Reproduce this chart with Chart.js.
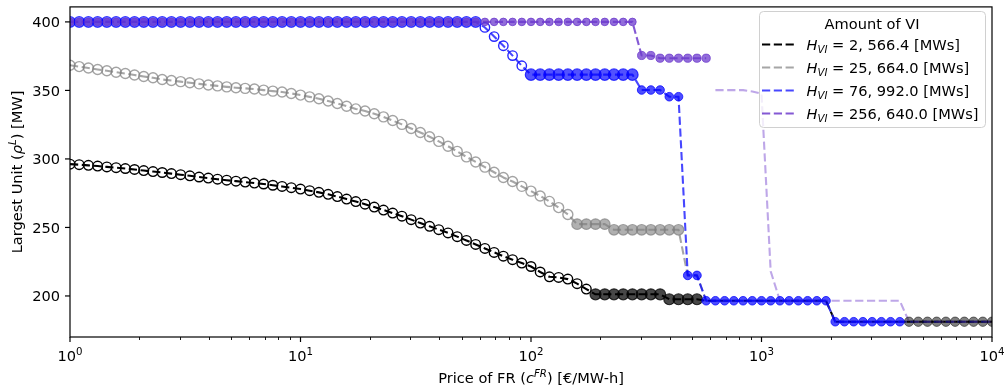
<!DOCTYPE html>
<html>
<head>
<meta charset="utf-8">
<script src="https://cdn.jsdelivr.net/npm/chart.js@4.4.1/dist/chart.umd.min.js"></script>
<style>
  html, body { margin: 0; padding: 0; background: #ffffff; }
  #wrap { width: 1008px; height: 392px; }
</style>
</head>
<body>
<div id="wrap"><canvas id="lineChart" width="1008" height="392"></canvas></div>
<script>
// price of FR grid (c^FR), 25 steps per decade
const prices = [
  1, 1.096, 1.202, 1.318, 1.445, 1.585, 1.738, 1.905, 2.089, 2.291, 2.512, 2.754, 3.020, 3.311, 3.631, 3.981, 4.365, 4.786, 5.248, 5.754, 6.310, 6.918, 7.586, 8.318, 9.120,
  10, 10.96, 12.02, 13.18, 14.45, 15.85, 17.38, 19.05, 20.89, 22.91, 25.12, 27.54, 30.20, 33.11, 36.31, 39.81, 43.65, 47.86, 52.48, 57.54, 63.10, 69.18, 75.86, 83.18, 91.20,
  100, 109.6, 120.2, 131.8, 144.5, 158.5, 173.8, 190.5, 208.9, 229.1, 251.2, 275.4, 302.0, 331.1, 363.1, 398.1, 436.5, 478.6, 524.8, 575.4, 631.0, 691.8, 758.6, 831.8, 912.0,
  1000, 1096, 1202, 1318, 1445, 1585, 1738, 1905, 2089, 2291, 2512, 2754, 3020, 3311, 3631, 3981, 4365, 4786, 5248, 5754, 6310, 6918, 7586, 8318, 9120,
  10000
];

// largest unit [MW] for each amount of VI
const blackValues = [
  296.2, 295.8, 295.3, 294.8, 294.2, 293.6, 293.0, 292.3, 291.5, 290.8,
  290.1, 289.3, 288.5, 287.7, 286.8, 286.0, 285.2, 284.5, 283.8, 283.1,
  282.4, 281.7, 280.8, 279.9, 279.0, 278.0, 276.8, 275.6, 274.2, 272.5,
  270.7, 268.9, 267.0, 264.9, 262.7, 260.5, 258.2, 255.7, 253.2, 250.8,
  248.4, 246.0, 243.3, 240.5, 237.6, 234.7, 231.8, 229.0, 226.5, 224.0,
  221.5, 217.5, 214.0, 213.5, 212.3, 209.0, 205.0, 201.2, 201.2, 201.2,
  201.2, 201.2, 201.2, 201.2, 201.2, 197.6, 197.6, 197.6, 197.6, 196.5,
  196.5, 196.5, 196.5, 196.5, 196.5, 196.5, 196.5, 196.5, 196.5, 196.5,
  196.5, 196.5, 196.5, 181.2, 181.2, 181.2, 181.2, 181.2, 181.2, 181.2,
  181.2, 181.2, 181.2, 181.2, 181.2, 181.2, 181.2, 181.2, 181.2, 181.2,
  181.2
];
const grayValues = [
  368.4, 367.4, 366.4, 365.3, 364.3, 363.3, 362.3, 361.2, 360.2, 359.2,
  358.0, 357.2, 356.4, 355.6, 354.8, 354.0, 353.3, 352.6, 352.0, 351.5,
  351.0, 350.2, 349.5, 348.8, 347.8, 346.6, 345.3, 343.9, 342.3, 340.5,
  338.5, 336.5, 335.0, 333.0, 330.7, 328.0, 325.2, 322.2, 319.3, 316.2,
  312.8, 309.3, 305.5, 301.5, 297.8, 294.0, 290.3, 286.5, 283.5, 280.0,
  276.5, 273.0, 269.0, 264.5, 259.5, 252.4, 252.4, 252.4, 252.4, 248.3,
  248.3, 248.3, 248.3, 248.3, 248.3, 248.3, 248.3, 215.0, 215.0, 196.5,
  196.5, 196.5, 196.5, 196.5, 196.5, 196.5, 196.5, 196.5, 196.5, 196.5,
  196.5, 196.5, 196.5, 181.2, 181.2, 181.2, 181.2, 181.2, 181.2, 181.2,
  181.2, 181.2, 181.2, 181.2, 181.2, 181.2, 181.2, 181.2, 181.2, 181.2,
  181.2
];
const blueValues = [
  400, 400, 400, 400, 400, 400, 400, 400, 400, 400,
  400, 400, 400, 400, 400, 400, 400, 400, 400, 400,
  400, 400, 400, 400, 400, 400, 400, 400, 400, 400,
  400, 400, 400, 400, 400, 400, 400, 400, 400, 400,
  400, 400, 400, 400, 400, 396.0, 389.3, 382.6, 375.4, 368.0,
  361.5, 361.5, 361.5, 361.5, 361.5, 361.5, 361.5, 361.5, 361.5, 361.5,
  361.5, 361.5, 350.3, 350.3, 350.3, 345.4, 345.4, 215.0, 215.0, 196.5,
  196.5, 196.5, 196.5, 196.5, 196.5, 196.5, 196.5, 196.5, 196.5, 196.5,
  196.5, 196.5, 196.5, 181.2, 181.2, 181.2, 181.2, 181.2, 181.2, 181.2,
  181.2, 181.2, 181.2, 181.2, 181.2, 181.2, 181.2, 181.2, 181.2, 181.2,
  181.2
];
const purpleValues = [
  400, 400, 400, 400, 400, 400, 400, 400, 400, 400,
  400, 400, 400, 400, 400, 400, 400, 400, 400, 400,
  400, 400, 400, 400, 400, 400, 400, 400, 400, 400,
  400, 400, 400, 400, 400, 400, 400, 400, 400, 400,
  400, 400, 400, 400, 400, 400, 400, 400, 400, 400,
  400, 400, 400, 400, 400, 400, 400, 400, 400, 400,
  400, 400, 375.5, 375.5, 373.5, 373.5, 373.5, 373.5, 373.5, 373.5,
  350.2, 350.2, 350.2, 350.2, 349.2, 347.6, 218.0, 196.5, 196.5, 196.5,
  196.5, 196.5, 196.5, 196.5, 196.5, 196.5, 196.5, 196.5, 196.5, 196.5,
  196.5, 181.2, 181.2, 181.2, 181.2, 181.2, 181.2, 181.2, 181.2, 181.2,
  181.2
];

const legendTitle = 'Amount of VI';
const legendValues = ['2, 566.4', '25, 664.0', '76, 992.0', '256, 640.0'];
const xTickValues = [1, 10, 100, 1000, 10000];
const xTickExponents = ['0', '1', '2', '3', '4'];
const yTickValues = [200, 250, 300, 350, 400];

const FONT = '"DejaVu Sans", sans-serif';
const FS = 14.6;

// style per series: dashed line pieces and marker pieces (index ranges)
const series = [
    {
        values: blackValues,
        legendColor: '#000000',
        lines: [{ from: 0, to: 100, color: '#000000' }],
        markers: [
            { from: 0, to: 56, r: 4.8, fill: 'rgba(0,0,0,0)', edge: '#000000', w: 1.4 },
            { from: 57, to: 68, r: 5.5, fill: 'rgba(0,0,0,0.72)', edge: 'rgba(0,0,0,0.75)', w: 1.2 },
            { from: 91, to: 100, r: 4.7, fill: 'rgba(0,0,0,0.5)', edge: 'rgba(0,0,0,0.5)', w: 1 }
        ]
    },
    {
        values: grayValues,
        legendColor: 'rgba(128,128,128,0.7)',
        lines: [{ from: 0, to: 100, color: 'rgba(128,128,128,0.7)' }],
        markers: [
            { from: 0, to: 54, r: 5.0, fill: 'rgba(0,0,0,0)', edge: 'rgba(128,128,128,0.72)', w: 1.4 },
            { from: 55, to: 66, r: 5.3, fill: 'rgba(128,128,128,0.62)', edge: 'rgba(128,128,128,0.7)', w: 1.2 }
        ]
    },
    {
        values: blueValues,
        legendColor: 'rgba(0,0,255,0.72)',
        lines: [{ from: 0, to: 100, color: 'rgba(0,0,255,0.72)' }],
        markers: [
            { from: 0, to: 44, r: 5.4, fill: 'rgba(0,0,255,0.6)', edge: 'rgba(0,0,255,0.7)', w: 1.2 },
            { from: 45, to: 49, r: 4.7, fill: 'rgba(0,0,0,0)', edge: 'rgba(0,0,255,0.85)', w: 1.4 },
            { from: 50, to: 61, r: 5.7, fill: 'rgba(0,0,255,0.68)', edge: 'rgba(0,0,255,0.75)', w: 1.2 },
            { from: 62, to: 90, r: 4.3, fill: 'rgba(0,0,255,0.7)', edge: 'rgba(0,0,255,0.75)', w: 1 }
        ]
    },
    {
        values: purpleValues,
        legendColor: 'rgba(110,60,205,0.85)',
        lines: [
            { from: 0, to: 69, color: 'rgba(110,60,205,0.85)' },
            { from: 70, to: 100, color: 'rgba(110,60,205,0.45)' }
        ],
        markers: [
            { from: 0, to: 61, r: 3.8, fill: 'rgba(110,60,205,0.75)', edge: 'rgba(110,60,205,0.8)', w: 1 },
            { from: 62, to: 69, r: 4.1, fill: 'rgba(110,60,205,0.75)', edge: 'rgba(110,60,205,0.8)', w: 1 }
        ]
    }
];

function pointsFor(values, from, to) {
    const pts = [];
    for (let i = from; i <= to; i++) {
        pts.push({ x: prices[i], y: values[i] });
    }
    return pts;
}

const datasets = [];
series.forEach((s, k) => {
    s.lines.forEach(l => {
        datasets.push({
            data: pointsFor(s.values, l.from, l.to),
            showLine: true,
            borderColor: l.color,
            borderWidth: 2.1,
            borderDash: [8.2, 3.6],
            borderJoinStyle: 'round',
            pointRadius: 0,
            tension: 0,
            fill: false,
            order: 20 - k
        });
    });
    s.markers.forEach(m => {
        datasets.push({
            data: pointsFor(s.values, m.from, m.to),
            showLine: false,
            pointRadius: m.r,
            pointBackgroundColor: m.fill,
            pointBorderColor: m.edge,
            pointBorderWidth: m.w,
            order: 10 - k
        });
    });
});

function drawRuns(ctx, runs, x, y, align) {
    let total = 0;
    runs.forEach(r => {
        ctx.font = r.font;
        r.w = ctx.measureText(r.t).width;
        total += r.w;
    });
    let cx = x;
    if (align === 'center') cx = x - total / 2;
    if (align === 'right') cx = x - total;
    runs.forEach(r => {
        ctx.font = r.font;
        ctx.fillText(r.t, cx, y + (r.dy || 0));
        cx += r.w;
    });
}

const normal = size => size + 'px ' + FONT;
const italic = size => 'italic ' + size + 'px ' + FONT;

const axesPlugin = {
    id: 'axesPlugin',
    afterDraw(chart) {
        const ctx = chart.ctx;
        const area = chart.chartArea;
        const xs = chart.scales.x;
        const ys = chart.scales.y;
        ctx.save();
        ctx.strokeStyle = '#000000';
        ctx.fillStyle = '#000000';
        ctx.textBaseline = 'alphabetic';

        // frame
        ctx.lineWidth = 1.2;
        ctx.strokeRect(area.left, area.top, area.right - area.left, area.bottom - area.top);

        // x ticks
        const minor = [];
        [1, 10, 100, 1000].forEach(d => {
            [2, 3, 4, 5, 6, 7, 8, 9].forEach(m => minor.push(m * d));
        });
        ctx.lineWidth = 0.9;
        minor.forEach(v => {
            const px = Math.round(xs.getPixelForValue(v)) + 0.5;
            ctx.beginPath();
            ctx.moveTo(px, area.bottom);
            ctx.lineTo(px, area.bottom + 3);
            ctx.stroke();
        });
        ctx.lineWidth = 1.2;
        xTickValues.forEach((v, i) => {
            const px = xs.getPixelForValue(v);
            ctx.beginPath();
            ctx.moveTo(px, area.bottom);
            ctx.lineTo(px, area.bottom + 5);
            ctx.stroke();
            drawRuns(ctx, [
                { t: '10', font: normal(FS) },
                { t: xTickExponents[i], font: normal(FS * 0.7), dy: -6.5 }
            ], px, 361, 'center');
        });

        // y ticks
        yTickValues.forEach(v => {
            const py = ys.getPixelForValue(v);
            ctx.beginPath();
            ctx.moveTo(area.left, py);
            ctx.lineTo(area.left - 5, py);
            ctx.stroke();
            drawRuns(ctx, [{ t: String(v), font: normal(FS) }], area.left - 10, py + 5.3, 'right');
        });

        // axis titles
        drawRuns(ctx, [
            { t: 'Price of FR (', font: normal(FS) },
            { t: 'c', font: italic(FS) },
            { t: 'FR', font: italic(FS * 0.7), dy: -6 },
            { t: ') [€/MW-h]', font: normal(FS) }
        ], (area.left + area.right) / 2, 383, 'center');

        ctx.save();
        ctx.translate(22, (area.top + area.bottom) / 2);
        ctx.rotate(-Math.PI / 2);
        drawRuns(ctx, [
            { t: 'Largest Unit (', font: normal(FS) },
            { t: 'ρ', font: italic(FS) },
            { t: 'L', font: italic(FS * 0.7), dy: -6 },
            { t: ') [MW]', font: normal(FS) }
        ], 0, 0, 'center');
        ctx.restore();

        // legend
        const bx = 759.5, by = 11.5, bw = 226, bh = 116, rad = 4;
        ctx.beginPath();
        ctx.moveTo(bx + rad, by);
        ctx.arcTo(bx + bw, by, bx + bw, by + bh, rad);
        ctx.arcTo(bx + bw, by + bh, bx, by + bh, rad);
        ctx.arcTo(bx, by + bh, bx, by, rad);
        ctx.arcTo(bx, by, bx + bw, by, rad);
        ctx.closePath();
        ctx.fillStyle = 'rgba(255,255,255,0.8)';
        ctx.fill();
        ctx.strokeStyle = '#d0d0d0';
        ctx.lineWidth = 1;
        ctx.stroke();

        ctx.fillStyle = '#000000';
        drawRuns(ctx, [{ t: legendTitle, font: normal(FS) }], 872, 28.5, 'center');
        const rowY = [44.5, 67.5, 90.5, 113.5];
        legendValues.forEach((val, i) => {
            const y = rowY[i];
            ctx.save();
            ctx.strokeStyle = series[i].legendColor;
            ctx.lineWidth = 2.1;
            ctx.setLineDash([8.2, 3.6]);
            ctx.beginPath();
            ctx.moveTo(762, y);
            ctx.lineTo(795, y);
            ctx.stroke();
            ctx.restore();
            ctx.fillStyle = '#000000';
            drawRuns(ctx, [
                { t: 'H', font: italic(FS) },
                { t: 'VI', font: italic(FS * 0.7), dy: 3 },
                { t: ' = ' + val, font: normal(FS) },
                { t: ' [MWs]', font: normal(FS) }
            ], 806.5, y + 5.3, 'left');
        });
        ctx.restore();
    }
};

const ctx = document.getElementById('lineChart').getContext('2d');
const chart = new Chart(ctx, {
    type: 'line',
    data: { datasets: datasets },
    options: {
        responsive: false,
        animation: false,
        devicePixelRatio: 1,
        layout: { padding: { left: 0, right: 16, top: 3, bottom: 0 } },
        plugins: {
            legend: { display: false },
            tooltip: { enabled: false }
        },
        scales: {
            x: {
                type: 'logarithmic',
                min: 1,
                max: 10000,
                grid: { display: false },
                border: { display: false },
                ticks: { display: false },
                afterFit: scale => { scale.height = 55; }
            },
            y: {
                type: 'linear',
                min: 170.05,
                max: 410.95,
                grid: { display: false },
                border: { display: false },
                ticks: { display: false },
                afterFit: scale => { scale.width = 70; }
            }
        }
    },
    plugins: [axesPlugin]
});
</script>
</body>
</html>
